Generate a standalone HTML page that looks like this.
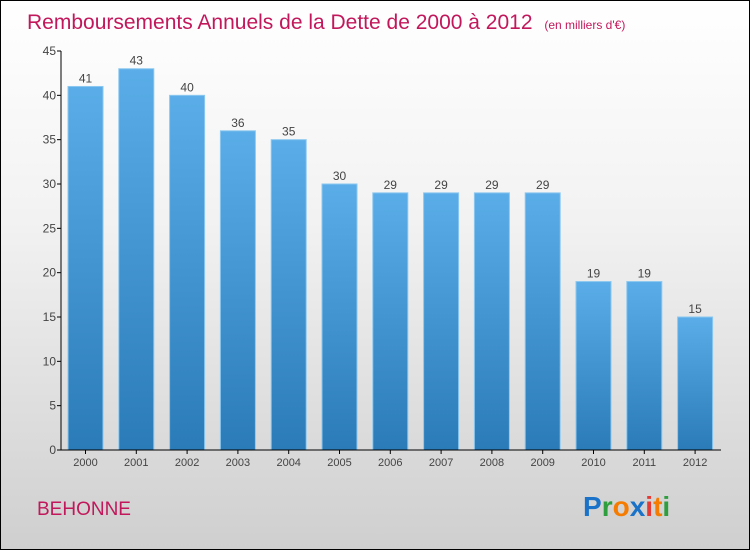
<!DOCTYPE html>
<html><head><meta charset="utf-8"><style>
html,body{margin:0;padding:0}
body{width:750px;height:550px;overflow:hidden;font-family:"Liberation Sans",sans-serif}
#wrap{position:absolute;left:0;top:0;width:748px;height:548px;border:1px solid #000;background:linear-gradient(#ffffff 0%,#f2f2f2 40%,#cfcfcf 100%)}
</style></head><body>
<div id="wrap">
<svg id="chart" width="748" height="548">
<defs><linearGradient id="bg" x1="0" y1="0" x2="0" y2="1"><stop offset="0" stop-color="#5aade8"/><stop offset="1" stop-color="#2a7bb8"/></linearGradient></defs>
<text x="26" y="28" font-size="21" fill="#c2185b">Remboursements Annuels de la Dette de 2000 à 2012 <tspan font-size="12" dx="6">(en milliers d'€)</tspan></text>
<text x="36" y="514" font-size="19" fill="#c2185b">BEHONNE</text>
<g font-size="28" font-weight="bold" font-family="'Liberation Sans',sans-serif">
<text x="582" y="515" fill="#1a73c8">P<tspan fill="#2e9e3e">r</tspan><tspan fill="#f57c00">o</tspan><tspan fill="#1a73c8">x</tspan><tspan fill="#e53935">i</tspan><tspan fill="#f57c00">t</tspan><tspan fill="#2e9e3e">i</tspan></text>
</g>
<g id="plot"></g>
</svg>
</div>
<script>
const categories=["2000","2001","2002","2003","2004","2005","2006","2007","2008","2009","2010","2011","2012"];
const values=[41,43,40,36,35,30,29,29,29,29,19,19,15];
const yTicks=[0,5,10,15,20,25,30,35,40,45];
const ns="http://www.w3.org/2000/svg";
const g=document.getElementById('plot');
const y0=449,yTop=50,yMax=45,xL=60,xR=720;
const y=v=>y0-(y0-yTop)*v/yMax;
const step=50.8,first=84.5,bw=35;
const x=i=>first+i*step;
function el(t,a,p){const e=document.createElementNS(ns,t);for(const k in a)e.setAttribute(k,a[k]);(p||g).appendChild(e);return e;}
categories.forEach((c,i)=>{
 const r=el('rect',{x:x(i)-bw/2,y:y(values[i]),width:bw,height:y0-y(values[i]),fill:'url(#bg)',stroke:'#8cc8f0','stroke-width':1});
 
 
 const t=el('text',{x:x(i),y:y(values[i])-4,'text-anchor':'middle','font-size':12,fill:'#444'});
 t.textContent=values[i];
 
 
 const xl=el('text',{x:x(i),y:y0+16,'text-anchor':'middle','font-size':11,fill:'#444'});
 xl.textContent=c;
 
 
 const tk=el('line',{x1:x(i),x2:x(i),y1:y0,y2:y0+4,stroke:'#000'});
 
 
});
yTicks.forEach(v=>{
 const l=el('line',{x1:xL-4,x2:xL,y1:y(v),y2:y(v),stroke:'#000'});
 
 
 const t=el('text',{x:xL-5,y:y(v)+4,'text-anchor':'end','font-size':12,fill:'#444'});
 t.textContent=v;
 
 
});
const ya=el('line',{x1:xL,x2:xL,y1:yTop,y2:y0,stroke:'#000'});


const xa=el('line',{x1:xL,x2:xR,y1:y0,y2:y0,stroke:'#000'});


</script>
</body></html>
